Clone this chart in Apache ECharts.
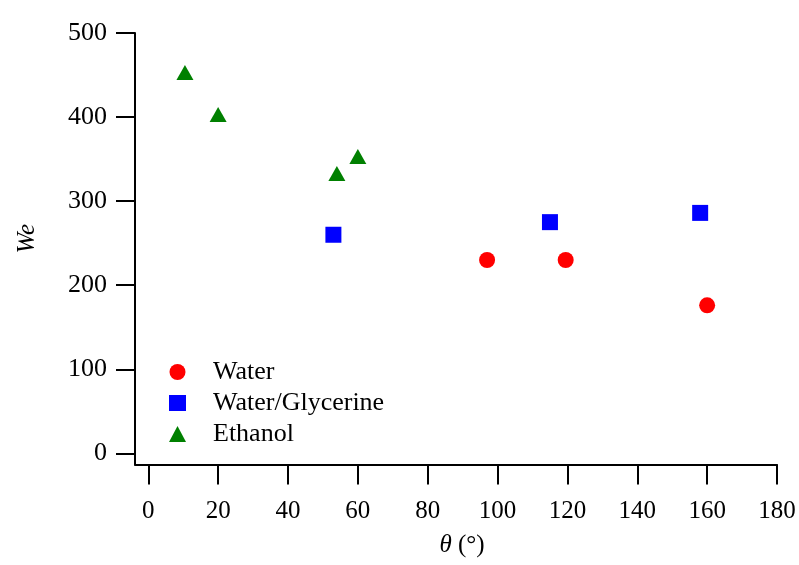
<!DOCTYPE html>
<html><head><meta charset="utf-8">
<script src="https://cdn.jsdelivr.net/npm/echarts@6/dist/echarts.min.js"></script>
<style>html,body{margin:0;padding:0;background:#fff}#c{width:799px;height:565px}</style>
</head><body><div id="c"></div>
<script>
const xTicks = [0, 20, 40, 60, 80, 100, 120, 140, 160, 180];
const yTicks = [0, 100, 200, 300, 400, 500];
const waterTheta = [97, 119.5, 160];
const waterWe = [230, 230, 176];
const glyTheta = [53, 115, 158];
const glyWe = [260, 275, 286];
const ethTheta = [10.5, 20, 54, 60];
const ethWe = [453, 403, 333, 353];
const seriesNames = ['Water', 'Water/Glycerine', 'Ethanol'];

const FONT = "'Liberation Serif','Times New Roman',serif";
const pts = (xs, ys) => xs.map((x, i) => [x, ys[i]]);
const chart = echarts.init(document.getElementById('c'));
chart.setOption({
  animation: false,
  backgroundColor: '#fff',
  grid: { left: 135, right: 22, top: 33, bottom: 100.5, containLabel: false },
  legend: {
    orient: 'vertical', left: 164, top: 354, itemWidth: 17, itemHeight: 16, itemGap: 5,
    data: seriesNames,
    textStyle: { fontFamily: FONT, fontSize: 26, color: '#000', padding: [0, 0, 0, 22] }
  },
  xAxis: {
    type: 'value', min: -3.8, max: 180,
    name: '{i|θ} (°)', nameLocation: 'middle', nameGap: 68,
    nameTextStyle: { fontFamily: FONT, fontSize: 25, color: '#000', padding: [0, 0, 0, 12],
      rich: { i: { fontFamily: FONT, fontSize: 25, fontStyle: 'italic', color: '#000' } } },
    axisLine: { onZero: false, lineStyle: { color: '#000', width: 2 } },
    axisTick: { show: true, inside: false, length: 20, lineStyle: { color: '#000', width: 2 }, customValues: xTicks },
    axisLabel: { margin: 34, fontFamily: FONT, fontSize: 25, color: '#000', customValues: xTicks },
    splitLine: { show: false }
  },
  yAxis: {
    type: 'value', min: -13.3, max: 500,
    name: 'We', nameLocation: 'middle', nameGap: 95,
    nameTextStyle: { fontFamily: FONT, fontSize: 25, fontStyle: 'italic', color: '#000', padding: [0, 0, 0, 20] },
    axisLine: { onZero: false, lineStyle: { color: '#000', width: 2 } },
    axisTick: { show: true, inside: false, length: 19, lineStyle: { color: '#000', width: 2 }, customValues: yTicks },
    axisLabel: { margin: 28, fontFamily: FONT, fontSize: 26, color: '#000', customValues: yTicks },
    splitLine: { show: false }
  },
  series: [
    { name: seriesNames[0], type: 'scatter', symbol: 'circle', symbolSize: 16,
      itemStyle: { color: '#ff0000', opacity: 1 }, data: pts(waterTheta, waterWe) },
    { name: seriesNames[1], type: 'scatter', symbol: 'rect', symbolSize: 16,
      itemStyle: { color: '#0000ff', opacity: 1 }, data: pts(glyTheta, glyWe) },
    { name: seriesNames[2], type: 'scatter', symbol: 'triangle', symbolSize: [17, 15],
      itemStyle: { color: '#008000', opacity: 1 }, data: pts(ethTheta, ethWe) }
  ]
});
</script></body></html>
